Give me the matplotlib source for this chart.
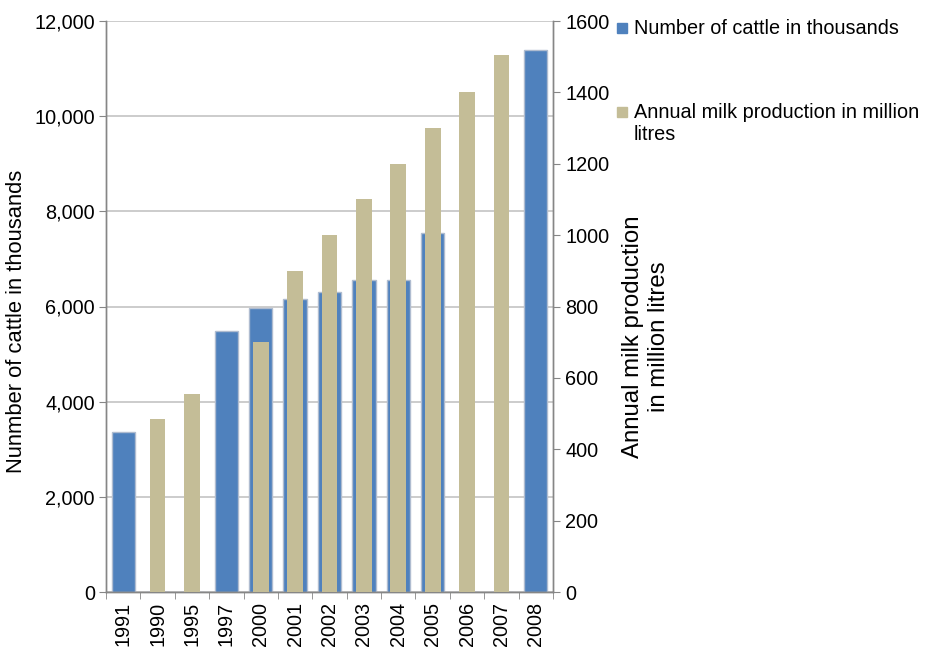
import matplotlib
matplotlib.use("Agg")
import matplotlib.pyplot as plt
from matplotlib.patches import Rectangle
from matplotlib.ticker import FuncFormatter, FixedLocator
import numpy as np

plt.rcParams['font.family'] = ['Liberation Sans', 'DejaVu Sans']

years = ["1991", "1990", "1995", "1997", "2000", "2001", "2002",
         "2003", "2004", "2005", "2006", "2007", "2008"]
cattle_thousands = [3370, 0, 0, 5490, 5960, 6160, 6300, 6560, 6560, 7540, 0, 0, 11400]
milk_million_litres = [0, 485, 555, 0, 700, 900, 1000, 1100, 1200, 1300, 1400, 1505, 0]

cattle_label = "Number of cattle in thousands"
milk_label = "Annual milk production in million\nlitres"

BLUE = "#4F81BD"
TAN = "#C4BD97"
AXIS_GREY = "#868686"
GRID_GREY = "#C8C8C8"
TICK_FS = 14.3

fig = plt.figure(figsize=(9.36, 6.47), dpi=100)
ax = fig.add_axes([106 / 936, 1 - 592 / 647, (553 - 106) / 936, (592 - 21) / 647])
ax2 = ax.twinx()

x = np.arange(len(years))

ax.bar(x, cattle_thousands, width=0.68, color=BLUE, edgecolor="#AFBCD0",
       linewidth=1.0, zorder=2)
ax2.bar(x, milk_million_litres, width=0.46, color=TAN, edgecolor="none", zorder=3)

ax.set_xlim(-0.5, len(years) - 0.5)
ax.set_ylim(0, 12000)
ax2.set_ylim(0, 1600)

ax.set_yticks(np.arange(0, 12001, 2000))
ax.yaxis.set_major_formatter(FuncFormatter(lambda v, p: f"{int(v):,}"))
ax2.set_yticks(np.arange(0, 1601, 200))

ax.yaxis.grid(True, color=GRID_GREY, linewidth=1.3, zorder=0)
ax.set_axisbelow(True)

# category labels at centres, tick marks on category boundaries
ax.set_xticks(x)
ax.set_xticklabels(years, rotation=90, fontsize=TICK_FS)
ax.xaxis.set_minor_locator(FixedLocator(np.arange(-0.5, len(years), 1.0)))
ax.tick_params(axis="x", which="major", length=0, pad=7)
ax.tick_params(axis="x", which="minor", length=5, color=AXIS_GREY, direction="out")

ax.tick_params(axis="y", length=5, color=AXIS_GREY, labelsize=TICK_FS, pad=3)
ax2.tick_params(axis="y", length=5, color=AXIS_GREY, labelsize=TICK_FS, pad=4)

for a in (ax, ax2):
    a.spines["top"].set_visible(False)
    for s in ("left", "right", "bottom"):
        a.spines[s].set_color(AXIS_GREY)
        a.spines[s].set_linewidth(1.0)

fig.text(17 / 936, 1 - 321 / 647, "Nunmber of cattle in thousands",
         rotation=90, fontsize=15.8, ha="center", va="center")

fig.text(646 / 936, 1 - 337 / 647, "Annual milk production\nin million litres",
         rotation=90, fontsize=17.3, ha="center", va="center",
         multialignment="center", linespacing=1.25)

# legend entries to the right of the secondary axis
fig.add_artist(Rectangle((617 / 936, 1 - 33 / 647), 10 / 936, 10 / 647,
                         transform=fig.transFigure, color=BLUE))
fig.text(634 / 936, 1 - 28 / 647, cattle_label, fontsize=TICK_FS, va="center")
fig.add_artist(Rectangle((617 / 936, 1 - 117 / 647), 10 / 936, 10 / 647,
                         transform=fig.transFigure, color=TAN))
fig.text(634 / 936, 1 - 124 / 647, milk_label, fontsize=TICK_FS, va="center",
         linespacing=1.2)

fig.savefig("out.png", dpi=100)
